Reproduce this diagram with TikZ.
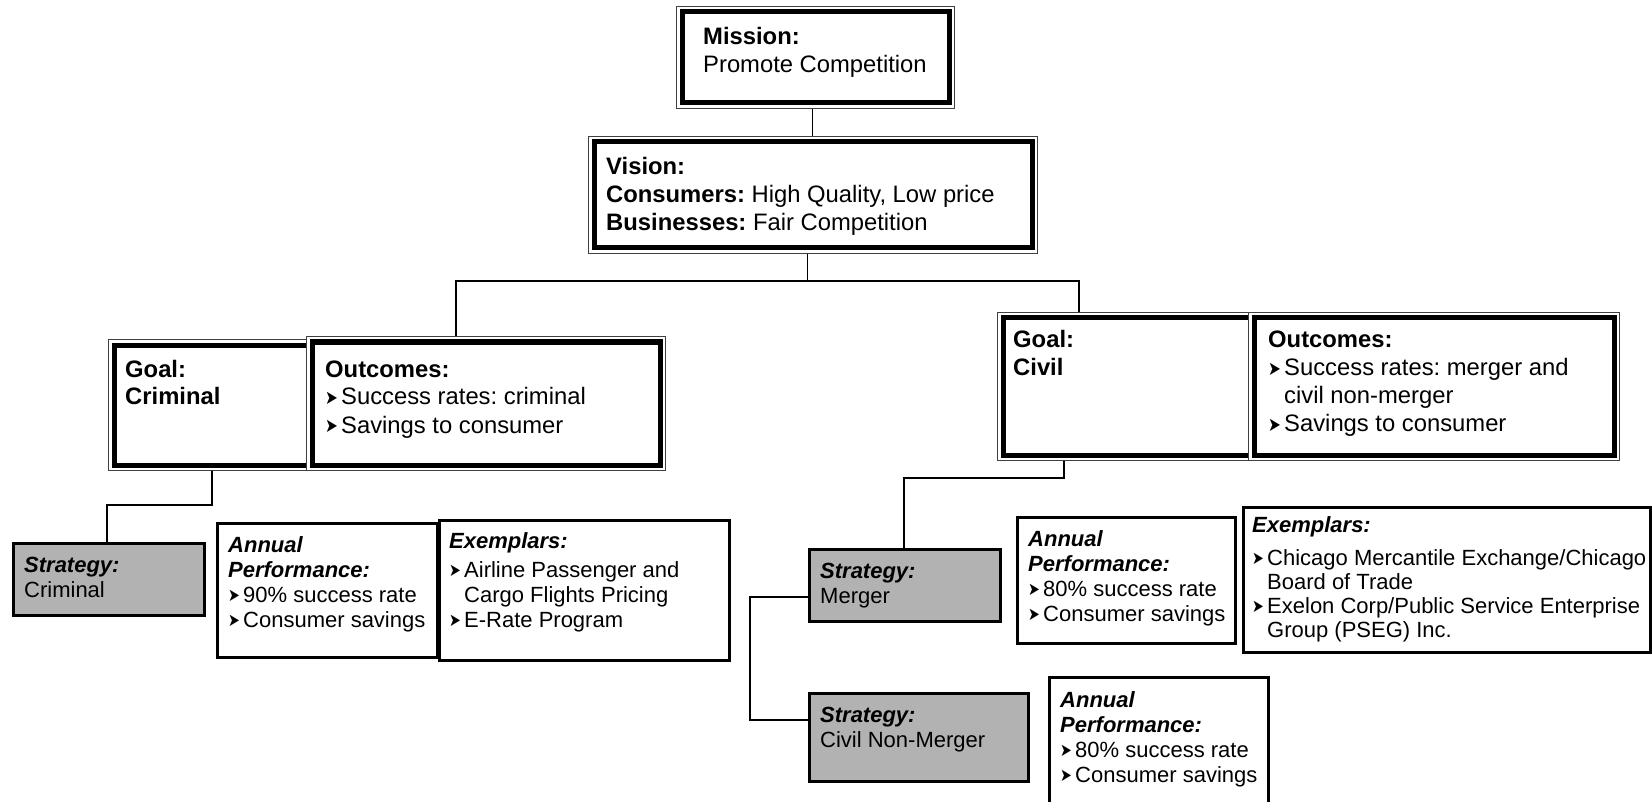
\documentclass[tikz,border=0pt]{standalone}
\usepackage{graphicx}
\usepackage{fontspec}
\setmainfont{Liberation Sans}
\newfontfamily\dejavu{DejaVu Sans}
\frenchspacing
\newcommand\bul{\makebox[16pt][l]{\raisebox{0.6pt}{\scalebox{0.78}[1]{\dejavu\fontsize{19.5}{19.5}\selectfont ➤}}}}
\newcommand\sbul{\makebox[15pt][l]{\raisebox{0.6pt}{\scalebox{0.78}[1]{\dejavu\fontsize{18}{18}\selectfont ➤}}}}
\newcommand\hang{\hspace*{16pt}}
\newcommand\shang{\hspace*{15pt}}
\newcommand\bi[1]{\textbf{\textit{#1}}}
\begin{document}
\begin{tikzpicture}[x=1pt,y=-1pt,
  dbox/.style={draw=black!75, line width=1pt, fill=white, inner sep=0pt, anchor=north west,
    path picture={\draw[line width=5pt,black]
      ([shift={(5.5pt,-5.5pt)}]path picture bounding box.north west) rectangle
      ([shift={(-5.5pt,5.5pt)}]path picture bounding box.south east);}},
  sbox/.style={draw=black, line width=2.5pt, fill=white, inner sep=0pt, anchor=north west},
  gbox/.style={sbox, fill=black!30},
  txt/.style={anchor=base west, inner sep=0pt, align=left, font=\fontsize{23.8}{28}\selectfont\frenchspacing},
  stxt/.style={txt, font=\fontsize{22}{25}\selectfont\frenchspacing},
  conn/.style={draw=black, line width=1.6pt}]
\useasboundingbox (0,0) rectangle (1652,802);
\clip (0,0) rectangle (1652,802);
\fill[white] (0,0) rectangle (1652,802);

% boxes
\node[dbox, minimum width=278pt, minimum height=102pt] (mission) at (676,6) {};
\node[dbox, minimum width=449pt, minimum height=117pt] (vision) at (588,136) {};
\node[dbox, minimum width=206pt, minimum height=131pt] (goal1) at (108,339) {};
\node[dbox, minimum width=359pt, minimum height=134pt] (out1) at (306,336) {};
\node[dbox, minimum width=261pt, minimum height=148pt] (goal2) at (997,312) {};
\node[dbox, minimum width=371pt, minimum height=148pt] (out2) at (1248,312) {};
\node[gbox, minimum width=191pt, minimum height=72pt] (strat1) at (12,542) {};
\node[sbox, minimum width=220pt, minimum height=134pt] (perf1) at (216,522) {};
\node[sbox, minimum width=290pt, minimum height=140pt] (ex1) at (438,519) {};
\node[gbox, minimum width=191pt, minimum height=72pt] (strat2) at (808,548) {};
\node[sbox, minimum width=218pt, minimum height=126pt] (perf2) at (1016,516) {};
\node[sbox, minimum width=407pt, minimum height=145pt] (ex2) at (1242,506) {};
\node[gbox, minimum width=219pt, minimum height=88pt] (strat3) at (808,692) {};
\node[sbox, minimum width=219pt, minimum height=150pt] (perf3) at (1048,676) {};

% connectors
\draw[conn] ([xshift=-3pt]mission.south) -- ([xshift=-3pt]mission.south |- vision.north);
\draw[conn] ([xshift=-5.5pt]vision.south) -- ++(0,28);
\draw[conn] ([xshift=150pt]out1.north west) -- ++(0,-55) -| ([xshift=82pt]goal2.north west);
\draw[conn] ([xshift=104pt]goal1.south west) -- ++(0,34) -| ([xshift=95pt]strat1.north west);
\draw[conn] ([xshift=67pt]goal2.south west) -- ++(0,17) -| ([xshift=96pt]strat2.north west);
\draw[conn] ([yshift=-12pt]strat2.west) -- ++(-58,0) |- ([yshift=17pt]strat3.west);

% texts
\node[txt] (tmission) at (703,45) {\begin{tabular}[t]{@{}l@{}}\textbf{Mission:}\\ Promote Competition\end{tabular}};
\node[txt] (tvision) at (606,175) {\begin{tabular}[t]{@{}l@{}}\textbf{Vision:}\\ \textbf{Consumers:} High Quality, Low price\\ \textbf{Businesses:} Fair Competition\end{tabular}};
\node[txt] (tgoal1) at (125,377) {\begin{tabular}[t]{@{}l@{}}\textbf{Goal:}\\ \textbf{Criminal}\end{tabular}};
\node[txt] (tout1) at (325,377) {\begin{tabular}[t]{@{}l@{}}\textbf{Outcomes:}\\ \bul Success rates: criminal\\ \bul Savings to consumer\end{tabular}};
\node[txt] (tgoal2) at (1013,348) {\begin{tabular}[t]{@{}l@{}}\textbf{Goal:}\\ \textbf{Civil}\end{tabular}};
\node[txt] (tout2) at (1268,348) {\begin{tabular}[t]{@{}l@{}}\textbf{Outcomes:}\\ \bul Success rates: merger and\\ \hang civil non-merger\\ \bul Savings to consumer\end{tabular}};

\node[stxt] (tstrat1) at (24,572) {\begin{tabular}[t]{@{}l@{}}\bi{Strategy:}\\ Criminal\end{tabular}};
\node[stxt] (tperf1) at (228,552) {\begin{tabular}[t]{@{}l@{}}\bi{Annual}\\ \bi{Performance:}\\ \sbul 90\% success rate\\ \sbul Consumer savings\end{tabular}};
\node[stxt] (tex1) at (449,548) {\begin{tabular}[t]{@{}l@{}}\bi{Exemplars:}\\[4pt] \sbul Airline Passenger and\\ \shang Cargo Flights Pricing\\ \sbul E-Rate Program\end{tabular}};

\node[stxt] (tstrat2) at (820,578) {\begin{tabular}[t]{@{}l@{}}\bi{Strategy:}\\ Merger\end{tabular}};
\node[stxt] (tperf2) at (1028,546) {\begin{tabular}[t]{@{}l@{}}\bi{Annual}\\ \bi{Performance:}\\ \sbul 80\% success rate\\ \sbul Consumer savings\end{tabular}};
\node[stxt, font=\fontsize{22}{24}\selectfont\frenchspacing] (tex2) at (1252,532) {\begin{tabular}[t]{@{}l@{}}\bi{Exemplars:}\\[9pt] \sbul Chicago Mercantile Exchange/Chicago\\ \shang Board of Trade\\ \sbul Exelon Corp/Public Service Enterprise\\ \shang Group (PSEG) Inc.\end{tabular}};

\node[stxt] (tstrat3) at (820,722) {\begin{tabular}[t]{@{}l@{}}\bi{Strategy:}\\ Civil Non-Merger\end{tabular}};
\node[stxt] (tperf3) at (1060,707) {\begin{tabular}[t]{@{}l@{}}\bi{Annual}\\ \bi{Performance:}\\ \sbul 80\% success rate\\ \sbul Consumer savings\end{tabular}};
\end{tikzpicture}
\end{document}
